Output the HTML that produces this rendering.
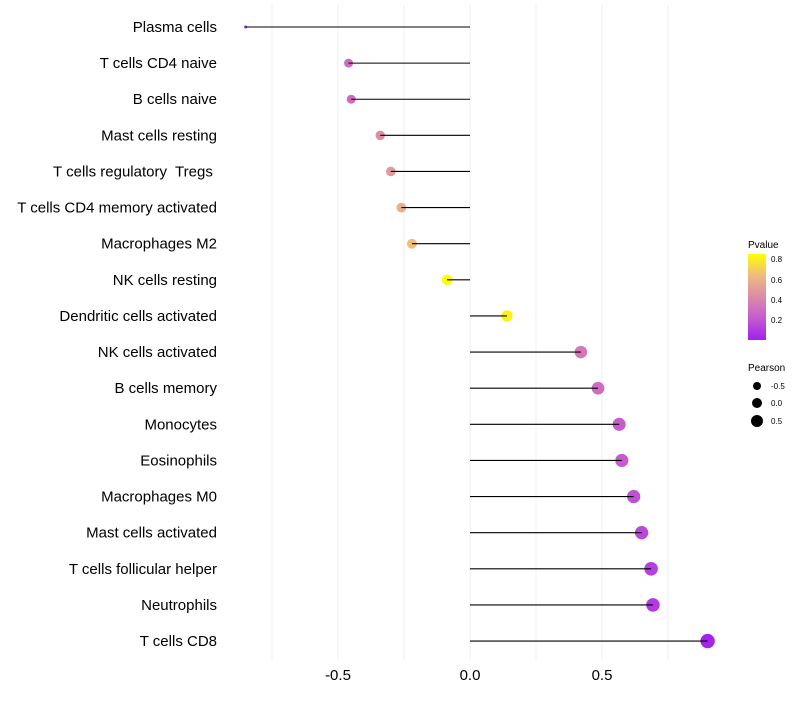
<!DOCTYPE html>
<html><head><meta charset="utf-8"><style>
body{margin:0;background:#fff;font-family:"Liberation Sans",sans-serif}
svg text{font-family:"Liberation Sans",sans-serif;white-space:pre}
</style></head><body>
<svg id="chart" width="800" height="700">
<defs><linearGradient id="pg" x1="0" y1="1" x2="0" y2="0">
<stop offset="0" stop-color="#A020F0"/><stop offset="0.25" stop-color="#C55AD0"/><stop offset="0.5" stop-color="#DC8AA8"/><stop offset="0.75" stop-color="#EFBA80"/><stop offset="1" stop-color="#FFFF00"/></linearGradient></defs>
<g id="grid"></g>
<g id="marks"></g>
<g id="ylabels"></g>
<g id="xlabels"></g>
<g>
<text x="748" y="248" font-size="10">Pvalue</text>
<rect x="748" y="254" width="18" height="86" fill="url(#pg)"/>
<text x="771" y="262" font-size="8">0.8</text>
<text x="771" y="283" font-size="8">0.6</text>
<text x="771" y="303" font-size="8">0.4</text>
<text x="771" y="323" font-size="8">0.2</text>
</g>
<g>
<text x="748" y="371" font-size="10">Pearson</text>
<circle cx="757" cy="386" r="4" fill="#000"/>
<circle cx="757" cy="403" r="5" fill="#000"/>
<circle cx="757" cy="421" r="6" fill="#000"/>
<text x="771" y="389" font-size="8">-0.5</text>
<text x="771" y="406" font-size="8">0.0</text>
<text x="771" y="424" font-size="8">0.5</text>
</g>
</svg>
<script>
const categories=["Plasma cells","T cells CD4 naive","B cells naive","Mast cells resting","T cells regulatory  Tregs ","T cells CD4 memory activated","Macrophages M2","NK cells resting","Dendritic cells activated","NK cells activated","B cells memory","Monocytes","Eosinophils","Macrophages M0","Mast cells activated","T cells follicular helper","Neutrophils","T cells CD8"];
const pearson=[-0.85,-0.46,-0.45,-0.34,-0.30,-0.26,-0.22,-0.087,0.14,0.42,0.485,0.565,0.575,0.62,0.65,0.686,0.693,0.90];
const pvalues=[0.02,0.30,0.30,0.45,0.50,0.60,0.66,0.86,0.82,0.35,0.30,0.22,0.22,0.18,0.15,0.12,0.10,0.02];
const xTicks=[-0.5,0.0,0.5];
const xTickLabels=["-0.5","0.0","0.5"];
const gridVals=[-0.75,-0.5,-0.25,0,0.25,0.5,0.75];
const NS="http://www.w3.org/2000/svg";
const x=v=>470+v*264;
const y=i=>27+i*36.12;
function rr(p){const lo=-0.85,mid=-0.46,hi=0.9;if(p<mid)return 1.5+(p-lo)/(mid-lo)*3;return 4.5+(p-mid)/(hi-mid)*2.7;}
const stops=[[0,[160,32,240]],[0.215,[197,90,208]],[0.43,[220,138,168]],[0.645,[239,186,128]],[0.86,[255,255,0]]];
function col(p){p=Math.max(0,Math.min(0.86,p));for(let k=1;k<stops.length;k++){if(p<=stops[k][0]){const a=stops[k-1],b=stops[k],t=(p-a[0])/(b[0]-a[0]);const c=a[1].map((v,j)=>Math.round(v+(b[1][j]-v)*t));return `rgb(${c})`;}}return "rgb(255,255,0)";}
function mk(t,a,p){const e=document.createElementNS(NS,t);for(const k in a)e.setAttribute(k,a[k]);p.appendChild(e);return e;}
const grid=document.getElementById('grid'),marks=document.getElementById('marks'),yl=document.getElementById('ylabels'),xl=document.getElementById('xlabels');
gridVals.forEach(v=>{const l=mk('line',{x1:x(v),x2:x(v),y1:5,y2:660,stroke:'#efefef','stroke-width':1},grid);

});
categories.forEach((c,i)=>{
const t=mk('text',{x:217,y:y(i)+5,'text-anchor':'end','font-size':15,fill:'#000'},yl);t.textContent=c;


const ci=mk('circle',{cx:x(pearson[i]),cy:y(i),r:rr(pearson[i]),fill:col(pvalues[i])},marks);


const l=mk('line',{x1:x(0),x2:x(pearson[i]),y1:y(i),y2:y(i),stroke:'#000','stroke-width':1.1},marks);


});
xTicks.forEach((v,k)=>{const t=mk('text',{x:x(v),y:680,'text-anchor':'middle','font-size':15,fill:'#000'},xl);t.textContent=xTickLabels[k];

});
</script>
</body></html>
